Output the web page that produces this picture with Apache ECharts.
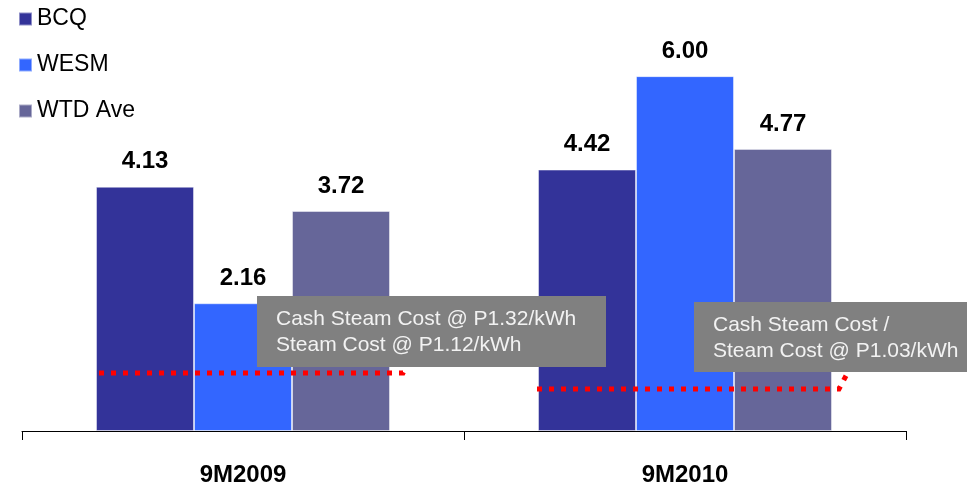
<!DOCTYPE html>
<html>
<head>
<meta charset="utf-8">
<title>Steam cost</title>
<script src="https://cdn.jsdelivr.net/npm/echarts@6/dist/echarts.min.js"></script>
<style>
  html, body { margin: 0; padding: 0; background: #fff; }
  #main { width: 967px; height: 489px; }
</style>
</head>
<body>
<div id="main"></div>
<script>
// periods
var categories = ['9M2009', '9M2010'];
// average prices per kWh
var bcq = [4.13, 4.42];
var wesm = [2.16, 6.00];
var wtdAve = [3.72, 4.77];
// steam cost levels (dotted lines) and their notes
var steamLevels = [0.98, 0.71];
var steamNotes = [
  'Cash Steam Cost @ P1.32/kWh\nSteam Cost @ P1.12/kWh',
  'Cash Steam Cost /\nSteam Cost @ P1.03/kWh'
];

var FONT = '"Liberation Sans", Arial, sans-serif';
var chart = echarts.init(document.getElementById('main'));

function barSeries(name, data, color) {
  return {
    name: name,
    type: 'bar',
    data: data,
    barWidth: 98,
    barGap: '0%',
    itemStyle: { color: color, borderColor: 'rgba(255,255,255,0.45)', borderWidth: 1 },
    label: {
      show: true,
      position: 'top',
      distance: 13,
      color: '#000',
      fontFamily: FONT,
      fontWeight: 'bold',
      fontSize: 24,
      formatter: function (p) { return p.value.toFixed(2); }
    }
  };
}

chart.setOption({
  animation: false,
  grid: { left: 22, right: 61, top: 17, bottom: 58 },
  legend: {
    orient: 'vertical',
    left: 18,
    top: 7,
    padding: 0,
    icon: 'rect',
    itemWidth: 13,
    itemHeight: 13,
    itemGap: 22,
    textStyle: { color: '#000', fontFamily: FONT, fontSize: 23, lineHeight: 24 },
    data: ['BCQ', 'WESM', 'WTD Ave']
  },
  xAxis: {
    type: 'category',
    data: categories,
    axisLine: { lineStyle: { color: '#000', width: 1 } },
    axisTick: { show: true, length: 9, lineStyle: { color: '#000' } },
    axisLabel: { color: '#000', fontFamily: FONT, fontWeight: 'bold', fontSize: 24, margin: 32 }
  },
  yAxis: { type: 'value', min: 0, max: 7, show: false },
  series: [
    barSeries('BCQ', bcq, '#333399'),
    barSeries('WESM', wesm, '#3366ff'),
    barSeries('WTD Ave', wtdAve, '#666699')
  ]
});

// annotations: dotted steam-cost lines placed through the axes, grey note boxes
var lineStart = [-144, -148];
var lineEnd = [160, 154];
var boxes = [
  { x: 257, y: 296, w: 349, h: 71 },
  { x: 694, y: 302, w: 290, h: 70 }
];
var graphics = [];
categories.forEach(function (c, i) {
  var cx = chart.convertToPixel({ xAxisIndex: 0 }, i);
  var y = chart.convertToPixel({ yAxisIndex: 0 }, steamLevels[i]);
  var b = boxes[i];
  var x1 = cx + lineEnd[i];
  graphics.push({
    type: 'polyline',
    z: 100,
    shape: { points: [[cx + lineStart[i], y], [x1, y], [x1 + (i === 0 ? 3 : 9), b.y + b.h]] },
    style: { stroke: '#ff0000', lineWidth: 5, lineDash: [5, 7], fill: null }
  });
  graphics.push({
    type: 'rect',
    z: 101,
    shape: { x: b.x, y: b.y, width: b.w, height: b.h },
    style: { fill: '#808080' }
  });
  graphics.push({
    type: 'text',
    z: 102,
    x: b.x + 19,
    y: b.y + 10,
    style: {
      text: steamNotes[i],
      fill: '#f2f2f2',
      font: '21px ' + FONT,
      lineHeight: 26,
      verticalAlign: 'top'
    }
  });
});
chart.setOption({ graphic: graphics });
</script>
</body>
</html>
